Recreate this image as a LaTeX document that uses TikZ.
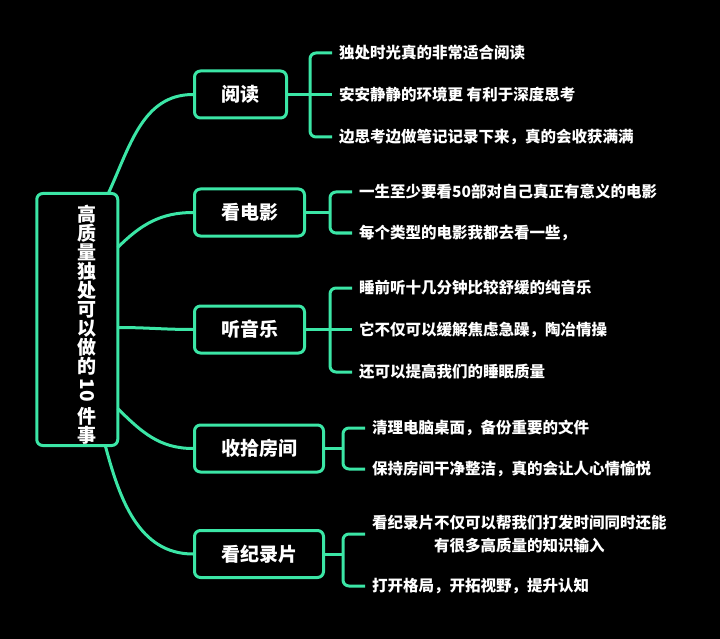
\documentclass[tikz,border=0pt]{standalone}
\usepackage{fontspec}
\usepackage{tikz}
\usetikzlibrary{calc}
\newfontfamily\cjk{Noto Sans CJK SC}
\definecolor{mint}{HTML}{3BE6A6}

\begin{document}
\begin{tikzpicture}[x=1pt,y=1pt,
    every node/.style={text=white},
    link/.style={draw=mint,line width=3pt},
    rootbox/.style={draw=mint,line width=3pt,rounded corners=6pt,
      minimum width=81pt,minimum height=252pt},
    roottext/.style={inner sep=0pt,align=center,
      font=\cjk\bfseries\fontsize{19}{19}\selectfont},
    topic/.style={draw=mint,line width=3pt,rounded corners=6pt,anchor=west,
      minimum height=47pt,font=\cjk\bfseries\fontsize{19}{19}\selectfont},
    leaf/.style={anchor=west,inner xsep=7pt,align=center,
      font=\cjk\bfseries\fontsize{15.5}{23}\selectfont}]
  % ---------------- canvas ----------------
  \fill[black] (0,0) rectangle (720,-639);
  \useasboundingbox (0,0) rectangle (720,-639);

  % ---------------- root ----------------
  \node[rootbox] (root) at (77.25,-319.5) {};
  \node[roottext,anchor=north] (root-title) at (87,-205)
    {高\\质\\量\\独\\处\\可\\以\\做\\的\\[31pt]件\\事};
  \node[roottext,rotate=-90] (root-num) at (87,-390.5) {10};

  % ---------------- topics ----------------
  \node[topic,minimum width=92pt]  (yd)   at (193,-94.5)  {阅读};
  \node[topic,minimum width=110pt] (kdy)  at (193,-212.5) {看电影};
  \node[topic,minimum width=110pt] (tyy)  at (193,-329.5) {听音乐};
  \node[topic,minimum width=129pt] (ssfj) at (193,-448.5) {收拾房间};
  \node[topic,minimum width=129pt] (kjlp) at (193,-554)   {看纪录片};

  % root to topics
  \draw[link] ($(root.north east)+(-11,-1.5)$) to[out=65,in=180] (yd.west);
  \draw[link] ($(root.east)+(-1.5,72)$) to[out=45,in=180] (kdy.west);
  \draw[link] ($(root.east)+(-1.5,-8)$) to[out=0,in=180] (tyy.west);
  \draw[link] ($(root.east)+(-1.5,-89)$) to[out=-45,in=180] (ssfj.west);
  \draw[link] ($(root.south west)+(70,1.5)$) to[out=-75,in=180] (kjlp.west);

  % ---------------- 阅读 ----------------
  \foreach \y/\t [count=\i] in {53/独处时光真的非常适合阅读,
      94.5/安安静静的环境更 有利于深度思考,
      137/边思考边做笔记记录下来，真的会收获满满}
    \node[leaf] (yd-\i) at (332,-\y) {\t};
  \coordinate (yd-j) at (310,-94.5);
  \draw[link] (yd.east) -- (yd-j) -- (yd-2.west);
  \draw[link,rounded corners=6pt] (yd-1.west) -| (yd-j) |- (yd-3.west);

  % ---------------- 看电影 ----------------
  \foreach \y/\t [count=\i] in {192/一生至少要看50部对自己真正有意义的电影,
      233/每个类型的电影我都去看一些，}
    \node[leaf] (kdy-\i) at (352,-\y) {\t};
  \coordinate (kdy-j) at (330,-212.5);
  \draw[link] (kdy.east) -- (kdy-j);
  \draw[link,rounded corners=6pt] (kdy-1.west) -| (kdy-j) |- (kdy-2.west);

  % ---------------- 听音乐 ----------------
  \foreach \y/\t [count=\i] in {288/睡前听十几分钟比较舒缓的纯音乐,
      329.5/它不仅可以缓解焦虑急躁，陶冶情操,
      372/还可以提高我们的睡眠质量}
    \node[leaf] (tyy-\i) at (352,-\y) {\t};
  \coordinate (tyy-j) at (330,-329.5);
  \draw[link] (tyy.east) -- (tyy-j) -- (tyy-2.west);
  \draw[link,rounded corners=6pt] (tyy-1.west) -| (tyy-j) |- (tyy-3.west);

  % ---------------- 收拾房间 ----------------
  \foreach \y/\t [count=\i] in {428/清理电脑桌面，备份重要的文件,
      469/保持房间干净整洁，真的会让人心情愉悦}
    \node[leaf] (ssfj-\i) at (365,-\y) {\t};
  \coordinate (ssfj-j) at (343,-448.5);
  \draw[link] (ssfj.east) -- (ssfj-j);
  \draw[link,rounded corners=6pt] (ssfj-1.west) -| (ssfj-j) |- (ssfj-2.west);

  % ---------------- 看纪录片 ----------------
  \foreach \y/\t [count=\i] in {534/看纪录片不仅可以帮我们打发时间同时还能\\有很多高质量的知识输入,
      586/打开格局，开拓视野，提升认知}
    \node[leaf] (kjlp-\i) at (365,-\y) {\t};
  \coordinate (kjlp-j) at (343,-554);
  \draw[link] (kjlp.east) -- (kjlp-j);
  \draw[link,rounded corners=6pt] (kjlp-1.west) -| (kjlp-j) |- (kjlp-2.west);
\end{tikzpicture}
\end{document}
